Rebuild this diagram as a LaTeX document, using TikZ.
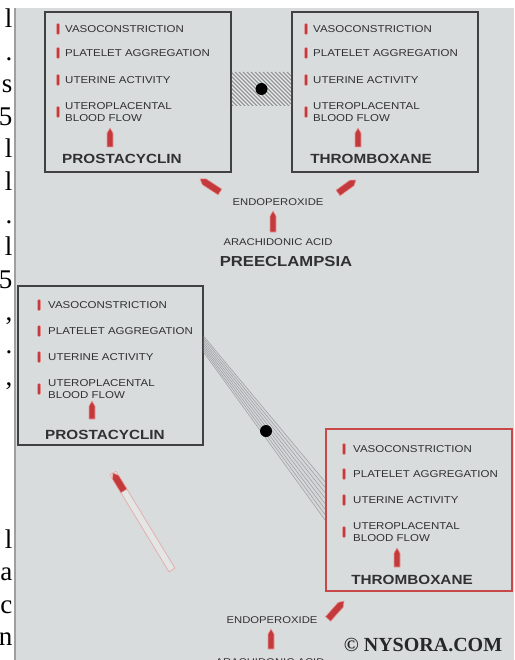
\documentclass[tikz,border=0pt]{standalone}
\usepackage{fontspec}
\setmainfont{Liberation Serif}
\newfontfamily\dfont[FakeStretch=1.15]{Liberation Sans}
\usetikzlibrary{calc}
\definecolor{panel}{HTML}{D9DCDD}
\definecolor{boxline}{HTML}{3F4142}
\definecolor{txt}{HTML}{2F3133}
\definecolor{ared}{HTML}{C43A3C}
\definecolor{aglow}{HTML}{E89A9A}
\definecolor{rbox}{HTML}{C84848}
\definecolor{hatchfill}{HTML}{C2C5C6}
\definecolor{hatchline}{HTML}{8E9192}
\definecolor{bandline}{HTML}{9A9DA0}
\definecolor{paleline}{HTML}{E3AFAF}
\definecolor{palefill}{HTML}{E4E6E6}
\tikzset{
 item/.style={anchor=west, inner sep=0pt, text=txt, font=\dfont\fontsize{10}{12}\selectfont, align=left},
 ttl/.style={inner sep=0pt, text=txt, font=\dfont\bfseries\fontsize{13.3}{15}\selectfont},
 pbox/.style={draw=boxline, line width=1.8pt, minimum width=186pt, minimum height=160pt, inner sep=0pt},
 ibar/.style={fill=ared, draw=aglow, line width=.5pt, minimum width=3pt, minimum height=11pt, inner sep=0pt, rounded corners=1pt},
 small/.style={inner sep=0pt, text=txt, font=\dfont\fontsize{9.8}{11}\selectfont},
 edgeletter/.style={anchor=base east, inner sep=0pt, font=\fontsize{27}{30}\selectfont},
}
\newcommand\bulletarrow[4][ared]{%
  \path (#2) coordinate (bt) (#3) coordinate (bh) ($(bh)!5pt!(bt)$) coordinate (bn);
  \filldraw[fill=#1, draw=aglow, line width=.6pt, line join=round]
    ($(bt)!#4!90:(bh)$) -- ($(bn)!#4!90:(bh)$) -- (bh) -- ($(bn)!#4!-90:(bh)$) -- ($(bt)!#4!-90:(bh)$) -- cycle;}
\begin{document}
\begin{tikzpicture}[x=1pt,y=-1pt]
\useasboundingbox (0,0) rectangle (514,660);
\fill[white] (0,0) rectangle (514,660);
% panel
\fill[panel] (14,8) rectangle (514,660);
\draw[gray!75, line width=2pt] (15,8) -- (15,660);
% left edge letters of neighbouring text
\node[edgeletter] (e1) at (12.5,28) {l};
\node[edgeletter] (e2) at (12.5,60.5) {.};
\node[edgeletter] (e3) at (12.5,93) {s};
\node[edgeletter] (e4) at (12.5,125.5) {5};
\node[edgeletter] (e5) at (12.5,158) {l};
\node[edgeletter] (e6) at (12.5,190.5) {l};
\node[edgeletter] (e7) at (12.5,223) {.};
\node[edgeletter] (e8) at (12.5,255.5) {l};
\node[edgeletter] (e9) at (12.5,288) {5};
\node[edgeletter] (e10) at (12.5,320.5) {,};
\node[edgeletter] (e11) at (12.5,353) {.};
\node[edgeletter] (e12) at (12.5,385.5) {,};
\node[edgeletter] (e13) at (12.5,548) {l};
\node[edgeletter] (e14) at (12.5,580.5) {a};
\node[edgeletter] (e15) at (12.5,613) {c};
\node[edgeletter] (e16) at (12.5,645.5) {n};

% ---------- top boxes ----------
\node[pbox] (tlbox) at (138,92) {};
\node[pbox] (trbox) at (385,92) {};
% hatched link
\fill[hatchfill] (tlbox.east |- 0,72) rectangle (trbox.west |- 0,106);
\begin{scope}
\clip (tlbox.east |- 0,72) rectangle (trbox.west |- 0,106);
\foreach \i in {-40,-36,...,64}{
  \draw[hatchline, line width=.7pt] (231+\i,72) -- ++(40,40);
  \draw[white!85!hatchfill, line width=.5pt] (233+\i,72) -- ++(40,40);
}
\end{scope}
\node[circle, fill=black, minimum size=12pt, inner sep=0pt] (hdot) at (261.5,89) {};

% top-left contents
\node[ibar] (tlb1) at (58,29) {};
\node[ibar] (tlb2) at (58,53) {};
\node[ibar] (tlb3) at (58,80) {};
\node[ibar] (tlb4) at (58,112) {};
\node[item] (tl1) at (65,29) {VASOCONSTRICTION};
\node[item] (tl2) at (65,53) {PLATELET AGGREGATION};
\node[item] (tl3) at (65,80) {UTERINE ACTIVITY};
\node[item] (tl4) at (65,112) {UTEROPLACENTAL\\BLOOD FLOW};
\node[ttl] (tlt) at (122,159) {PROSTACYCLIN};
\bulletarrow{110,147}{110,128}{3pt}

% top-right contents
\node[ibar] (trb1) at (306,29) {};
\node[ibar] (trb2) at (306,53) {};
\node[ibar] (trb3) at (306,80) {};
\node[ibar] (trb4) at (306,112) {};
\node[item] (tr1) at (313,29) {VASOCONSTRICTION};
\node[item] (tr2) at (313,53) {PLATELET AGGREGATION};
\node[item] (tr3) at (313,80) {UTERINE ACTIVITY};
\node[item] (tr4) at (313,112) {UTEROPLACENTAL\\BLOOD FLOW};
\node[ttl] (trt) at (371,159) {THROMBOXANE};
\bulletarrow{358,147}{358,128}{3pt}

% middle pathway
\bulletarrow{220,192}{200,179}{3.5pt}
\bulletarrow{338,193}{356,180}{3.5pt}
\node[small] (endo1) at (278,202) {ENDOPEROXIDE};
\bulletarrow{273,232}{273,211}{3pt}
\node[small] (arach1) at (278,242) {ARACHIDONIC ACID};
\node[inner sep=0pt, text=txt, font=\dfont\bfseries\fontsize{14.5}{16}\selectfont] (pre) at (286,262) {PREECLAMPSIA};

% ---------- bottom boxes ----------
\node[pbox, minimum width=185pt, minimum height=159pt] (blbox) at (110.5,365.5) {};
\node[pbox, draw=rbox, line width=2.2pt, minimum height=162pt] (rbox) at (419,510) {};

% diagonal band
\fill[panel!94!gray] ($(blbox.north east)!.32!(blbox.south east)$) -- ($(rbox.north west)!.327!(rbox.south west)$)
   -- ($(rbox.north west)!.56!(rbox.south west)$) -- ($(blbox.north east)!.42!(blbox.south east)$) -- cycle;
\foreach \i in {0,...,7}{
  \pgfmathsetmacro\fa{.32+.1*\i/7}
  \pgfmathsetmacro\fb{.327+.233*\i/7}
  \draw[bandline, line width=.5pt] ($(blbox.north east)!\fa!(blbox.south east)$) -- ($(rbox.north west)!\fb!(rbox.south west)$);
}
\node[circle, fill=black, minimum size=12pt, inner sep=0pt] (bdot) at (266,431) {};

% bottom-left contents
\node[ibar] (blb1) at (39,305) {};
\node[ibar] (blb2) at (39,331) {};
\node[ibar] (blb3) at (39,357) {};
\node[ibar] (blb4) at (39,389) {};
\node[item] (bl1) at (48,305) {VASOCONSTRICTION};
\node[item] (bl2) at (48,331) {PLATELET AGGREGATION};
\node[item] (bl3) at (48,357) {UTERINE ACTIVITY};
\node[item] (bl4) at (48,389) {UTEROPLACENTAL\\BLOOD FLOW};
\node[ttl] (blt) at (105,435) {PROSTACYCLIN};
\bulletarrow{92,419}{92,401}{3pt}

% red box contents
\node[ibar] (rbb1) at (344,449) {};
\node[ibar] (rbb2) at (344,474) {};
\node[ibar] (rbb3) at (344,500) {};
\node[ibar] (rbb4) at (344,532) {};
\node[item] (rb1) at (353,449) {VASOCONSTRICTION};
\node[item] (rb2) at (353,474) {PLATELET AGGREGATION};
\node[item] (rb3) at (353,500) {UTERINE ACTIVITY};
\node[item] (rb4) at (353,532) {UTEROPLACENTAL\\BLOOD FLOW};
\node[ttl] (rbt) at (412,580) {THROMBOXANE};
\bulletarrow{397,567}{397,548}{3pt}

% pale (weak) arrow towards prostacyclin
\coordinate (pt) at (172,570);
\coordinate (ph) at (113,473);
\filldraw[fill=palefill, draw=paleline, line width=.8pt, line join=round]
  ($(pt)!3.5pt!90:(ph)$) -- ($(ph)!3.5pt!-90:(pt)$) -- ($(ph)!3.5pt!90:(pt)$) -- ($(pt)!3.5pt!-90:(ph)$) -- cycle;
\bulletarrow{$(ph)!21pt!(pt)$}{ph}{3.6pt}

% bottom pathway
\bulletarrow{328,619}{344,601}{3.5pt}
\node[small] (endo2) at (272,620) {ENDOPEROXIDE};
\bulletarrow{271,649}{271,629}{3pt}
\node[small] (arach2) at (270,662) {ARACHIDONIC ACID};
\node[inner sep=0pt, text=txt!80!black, font=\bfseries\fontsize{20}{22}\selectfont] (copy) at (423,645) {© NYSORA.COM};
\end{tikzpicture}
\end{document}
